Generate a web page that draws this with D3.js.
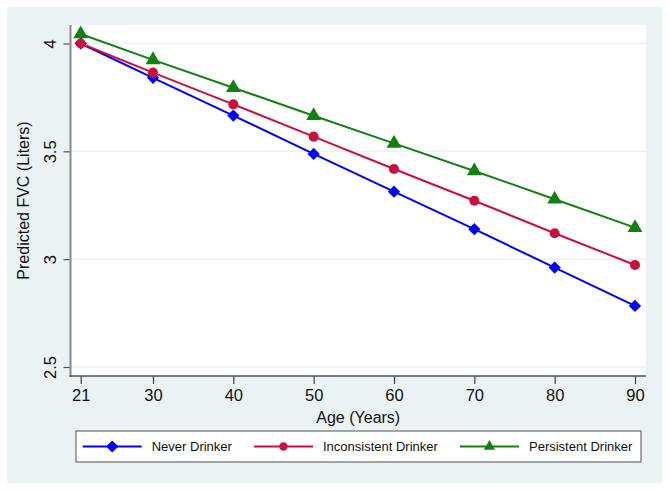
<!DOCTYPE html>
<html><head><meta charset="utf-8">
<script src="https://cdn.jsdelivr.net/npm/d3@7"></script>
<style>body{margin:0;background:#fff}svg{display:block}text{font-family:"Liberation Sans",Arial,sans-serif;fill:#111}</style>
</head><body>
<script>
const ages = [21, 30, 40, 50, 60, 70, 80, 90];
const seriesNames = ["Never Drinker", "Inconsistent Drinker", "Persistent Drinker"];
const neverDrinker = [4.00, 3.841, 3.666, 3.488, 3.313, 3.139, 2.961, 2.783];
const inconsistentDrinker = [4.00, 3.865, 3.718, 3.568, 3.418, 3.271, 3.120, 2.973];
const persistentDrinker = [4.044, 3.924, 3.795, 3.665, 3.537, 3.409, 3.278, 3.146];
const yTicks = [2.5, 3, 3.5, 4];
const xTickLabels = ["21", "30", "40", "50", "60", "70", "80", "90"];
const xTitle = "Age (Years)";
const yTitle = "Predicted FVC (Liters)";

const W = 670, H = 492;
const colors = ["#0000ff", "#cc0f3f", "#118211"];
const symbols = [d3.symbolDiamond2, d3.symbolCircle, d3.symbolTriangle];
const values = [neverDrinker, inconsistentDrinker, persistentDrinker];

const svg = d3.select("body").append("svg").attr("width", W).attr("height", H);
svg.append("rect").attr("x", 7).attr("y", 7).attr("width", 655).attr("height", 476).attr("fill", "#eaf2f3");

const plot = {l: 70.5, r: 646, t: 25, b: 376};
const x = d3.scaleLinear().domain([21, 90]).range([80.7, 635]);
const y = d3.scaleLinear().domain([2.5, 4]).range([367, 43.5]);

svg.append("rect").attr("x", plot.l).attr("y", plot.t).attr("width", plot.r - plot.l).attr("height", plot.b - plot.t).attr("fill", "#fff");

// gridlines
svg.append("g").selectAll("line").data(yTicks).join("line")
  .attr("x1", plot.l).attr("x2", plot.r).attr("y1", d => y(d)).attr("y2", d => y(d))
  .attr("stroke", "#eaf2f3").attr("stroke-width", 1.5);

// y axis
const yAxis = svg.append("g").attr("transform", `translate(${plot.l},0)`)
  .call(d3.axisLeft(y).tickValues(yTicks).tickFormat(d3.format("~g")).tickSize(7).tickPadding(6));
yAxis.select(".domain").remove();
yAxis.selectAll(".tick line").attr("stroke", "#555").attr("stroke-width", 1.2);
yAxis.selectAll(".tick text").attr("transform", "rotate(-90)").attr("x", 0).attr("y", -15)
  .attr("text-anchor", "middle").attr("dy", 0).style("font-size", "16.5px")
  .style("font-family", "'Liberation Sans',Arial,sans-serif").attr("fill", "#111");
svg.append("line").attr("x1", plot.l).attr("x2", plot.l).attr("y1", plot.t).attr("y2", plot.b + 1)
  .attr("stroke", "#8a8a8a").attr("stroke-width", 2);

// x axis
const xAxis = svg.append("g").attr("transform", `translate(0,${plot.b})`)
  .call(d3.axisBottom(x).tickValues(ages).tickFormat((d, i) => xTickLabels[i]).tickSize(8).tickPadding(5));
xAxis.select(".domain").remove();
xAxis.selectAll(".tick line").attr("stroke", "#444").attr("stroke-width", 1.2);
xAxis.selectAll(".tick text").style("font-size", "16.5px")
  .style("font-family", "'Liberation Sans',Arial,sans-serif").attr("fill", "#111");
svg.append("line").attr("x1", plot.l - 1).attr("x2", plot.r).attr("y1", plot.b).attr("y2", plot.b)
  .attr("stroke", "#555").attr("stroke-width", 1.5);

// titles
svg.append("text").attr("x", (plot.l + plot.r) / 2).attr("y", 423).attr("text-anchor", "middle")
  .style("font-size", "16px").text(xTitle);
svg.append("text").attr("transform", `translate(29,${(plot.t + plot.b) / 2}) rotate(-90)`)
  .attr("text-anchor", "middle").style("font-size", "16px").text(yTitle);

// series
const line = d3.line().x((d, i) => x(ages[i])).y(d => y(d));
const symSizes = [90, 80, 95];
values.forEach((vals, s) => {
  svg.append("path").datum(vals).attr("d", line).attr("fill", "none")
    .attr("stroke", colors[s]).attr("stroke-width", 2);
  svg.append("g").selectAll("path").data(vals).join("path")
    .attr("transform", (d, i) => `translate(${x(ages[i])},${y(d)})` + (s === 0 ? " rotate(45)" : ""))
    .attr("d", s === 0 ? d3.symbol(d3.symbolSquare, 75)() : d3.symbol(symbols[s], symSizes[s])())
    .attr("fill", colors[s]);
});

// legend
const lg = svg.append("g");
lg.append("rect").attr("x", 76).attr("y", 431).attr("width", 565).attr("height", 31)
  .attr("fill", "#fff").attr("stroke", "#777").attr("stroke-width", 1.3);
const legX = [82.7, 254, 460];
seriesNames.forEach((name, s) => {
  const g = lg.append("g").attr("transform", `translate(${legX[s]},446.5)`);
  g.append("line").attr("x1", 0).attr("x2", 59).attr("stroke", colors[s]).attr("stroke-width", 2);
  g.append("path").attr("transform", "translate(29.5,0)" + (s === 0 ? " rotate(45)" : ""))
    .attr("d", s === 0 ? d3.symbol(d3.symbolSquare, 75)() : d3.symbol(symbols[s], s === 1 ? 55 : 55)())
    .attr("fill", colors[s]);
  g.append("text").attr("x", 69).attr("y", 4.6).style("font-size", "13px").text(name);
});
</script>
</body></html>
